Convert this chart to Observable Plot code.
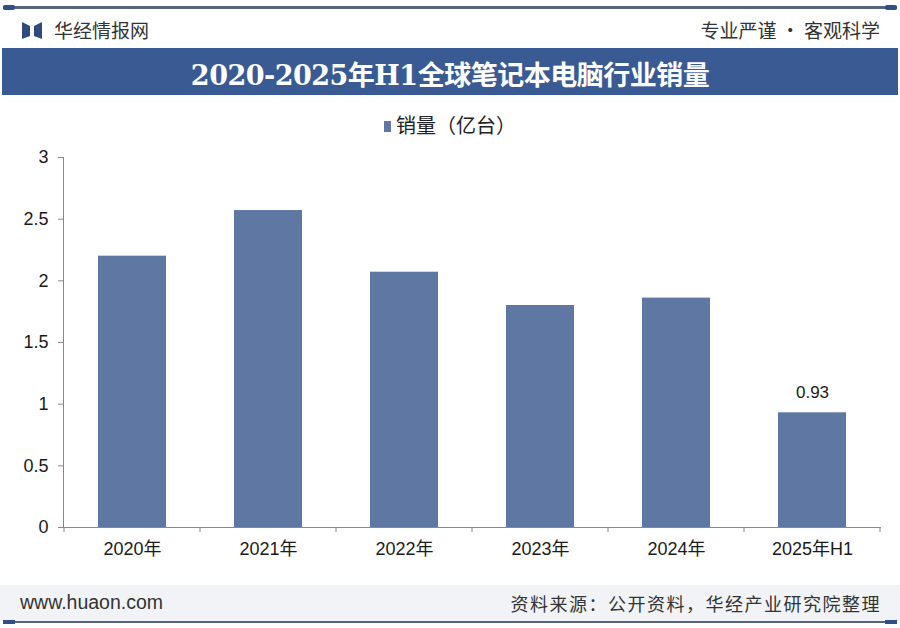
<!DOCTYPE html>
<html><head><meta charset="utf-8">
<script src="https://cdn.jsdelivr.net/npm/d3@7"></script>
<script src="https://cdn.jsdelivr.net/npm/@observablehq/plot@0.6"></script>
<style>
body{margin:0;background:#fff;font-family:"Noto Sans CJK SC","Liberation Sans",sans-serif;}
#wrap{position:relative;width:900px;height:628px;overflow:hidden;background:#fff;}
.abs{position:absolute;}
</style></head>
<body><div id="wrap">
<div class="abs" style="left:3px;top:6px;width:894px;height:3px;background:#56647e;"></div>
<div class="abs" style="left:3px;top:5px;width:12px;height:5px;background:#2f4f86;border-radius:2px;"></div>
<div class="abs" style="left:885px;top:5px;width:12px;height:5px;background:#2f4f86;border-radius:2px;"></div>
<svg class="abs" style="left:22px;top:20px" width="20" height="20"><path d="M0,2 L8,6 L8,16 L0,19Z M20,2 L12,6 L12,16 L20,19Z" fill="#2e4a7e"/></svg>
<div class="abs" id="brand" style="left:54px;top:16px;font-size:19px;color:#333;">华经情报网</div>
<div class="abs" id="slogan" style="right:20px;top:16px;font-size:19px;color:#333;">专业严谨 • 客观科学</div>
<div class="abs" style="left:2px;top:48px;width:896px;height:47px;background:#3a5a93;"></div>
<div class="abs" id="title" style="left:0;top:54px;width:900px;text-align:center;font-size:27px;font-weight:bold;color:#fff;font-family:'DejaVu Serif','Noto Sans CJK SC',serif;letter-spacing:-0.5px;"></div>
<div class="abs" id="legend" style="left:0;top:110px;width:900px;text-align:center;font-size:20px;color:#222;"></div>
<div class="abs" id="chart" style="left:0;top:140px;"></div>
<div class="abs" style="left:0;top:585px;width:900px;height:36px;background:#f1f3f6;"></div>
<div class="abs" style="left:3px;top:621px;width:894px;height:2px;background:#56647e;"></div>
<div class="abs" style="left:3px;top:620px;width:12px;height:4px;background:#2f4f86;"></div>
<div class="abs" style="left:885px;top:620px;width:12px;height:4px;background:#2f4f86;"></div>
<div class="abs" id="site" style="left:20px;top:591px;font-size:19.5px;color:#333;font-family:'Liberation Sans',sans-serif;"></div>
<div class="abs" id="source" style="right:19px;top:590px;font-size:18px;color:#333;letter-spacing:1.5px;"></div>
</div>
<script>
const titleText = "2020-2025年H1全球笔记本电脑行业销量";
const seriesName = "销量（亿台）";
const siteText = "www.huaon.com";
const sourceText = "资料来源：公开资料，华经产业研究院整理";
const categories = ["2020年","2021年","2022年","2023年","2024年","2025年H1"];
const sales = [2.20, 2.57, 2.07, 1.80, 1.86, 0.93];
const labeled = ["2025年H1"];
const yTicks = [0, 0.5, 1, 1.5, 2, 2.5, 3];
const barColor = "#5f77a3";

document.getElementById("title").textContent = titleText;
document.getElementById("site").textContent = siteText;
document.getElementById("source").textContent = sourceText;
document.getElementById("legend").innerHTML =
  `<span style="display:inline-block;width:7px;height:11px;background:${barColor};margin-right:5px;vertical-align:1px"></span>${seriesName}`;

const data = categories.map((c, i) => ({cat: c, v: sales[i]}));

const plot = Plot.plot({
  width: 900, height: 440,
  marginTop: 17, marginBottom: 53, marginLeft: 63, marginRight: 19,
  style: {fontFamily: "'Liberation Sans', 'Noto Sans CJK SC', sans-serif", fontSize: "18px", color: "#1a1a1a", background: "transparent"},
  x: {domain: categories, paddingInner: 0.5, paddingOuter: 0.25, label: null},
  y: {domain: [0, 3], ticks: yTicks, label: null},
  marks: [
    Plot.barY(data, {x: "cat", y: "v", fill: barColor}),
    Plot.text(data.filter(d => labeled.includes(d.cat)), {x: "cat", y: "v", text: d => d.v.toFixed(2), dy: -20, fontSize: 17, fill: "#1a1a1a"}),
    Plot.axisY({ticks: yTicks, tickFormat: d => String(d), tickSize: 5, tickPadding: 10, stroke: "#888", fontSize: 18}),
    Plot.axisX({tickSize: 0, tickPadding: 15, fontSize: 18}),
    Plot.frame({anchor: "left", stroke: "#888"}),
    Plot.ruleY([0], {stroke: "#888"})
  ]
});
document.getElementById("chart").appendChild(plot);

// band-boundary tick marks below the x axis, from the Plot scale
const xs = plot.scale("x");
const ys = plot.scale("y");
const step = xs.bandwidth / (1 - 0.5);
const y0 = ys.apply(0);
const bounds = categories.map(c => xs.apply(c) - step * 0.25);
bounds.push(xs.apply(categories[categories.length - 1]) + xs.bandwidth + step * 0.25);
d3.select(plot).append("g").selectAll("line").data(bounds).join("line")
  .attr("x1", d => d).attr("x2", d => d).attr("y1", y0).attr("y2", y0 + 5)
  .attr("stroke", "#888");
</script>
</body></html>
